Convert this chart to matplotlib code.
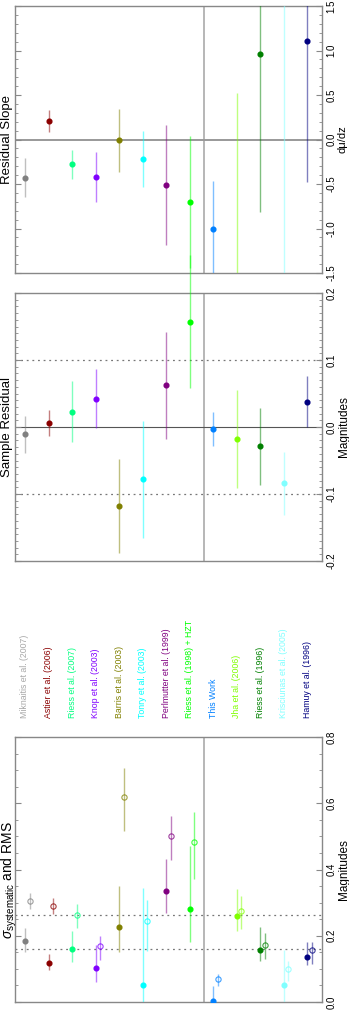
import matplotlib
matplotlib.use('Agg')
import matplotlib.pyplot as plt
import matplotlib.colors as mcolors
import matplotlib.transforms as mtransforms
from matplotlib.ticker import MultipleLocator, FormatStrFormatter

plt.rcParams['font.family'] = ['Liberation Sans', 'DejaVu Sans']
plt.rcParams['axes.unicode_minus'] = False
plt.rcParams['mathtext.fontset'] = 'custom'
plt.rcParams['mathtext.rm'] = 'Liberation Sans'
plt.rcParams['mathtext.it'] = 'Liberation Sans:italic'

# samples, in plotting order
names = ['Miknaitis et al. (2007)', 'Astier et al. (2006)', 'Riess et al. (2007)',
         'Knop et al. (2003)', 'Barris et al. (2003)', 'Tonry et al. (2003)',
         'Perlmutter et al. (1999)', 'Riess et al. (1998) + HZT', 'This Work',
         'Jha et al. (2006)', 'Riess et al. (1996)', 'Krisciunas et al. (2005)',
         'Hamuy et al. (1996)']
colors = ['#808080', '#8b0000', '#00ff80', '#8000ff', '#808000', '#00ffff',
          '#800080', '#00ff00', '#0080ff', '#80ff00', '#008000', '#80ffff', '#000080']
label_colors = ['#a8a8a8', '#8b0000', '#00ff80', '#8000ff', '#808000', '#00ffff',
                '#800080', '#00ff00', '#0080ff', '#80ff00', '#008000', '#80ffff', '#000080']

# residual slope (dmu/dz)
slope = [-0.43, 0.21, -0.28, -0.42, -0.01, -0.22, -0.51, -0.70, -1.01, -1.75, 0.96, -1.8, 1.11]
slope_err = [0.22, 0.125, 0.165, 0.285, 0.35, 0.31, 0.67, 0.74, 0.54, 2.27, 1.77, 3.5, 1.59]

# sample residual (mag)
resid = [-0.011, 0.006, 0.023, 0.042, -0.118, -0.078, 0.062, 0.157, -0.003, -0.018, -0.029, -0.084, 0.038]
resid_err = [0.028, 0.02, 0.045, 0.044, 0.07, 0.087, 0.08, 0.099, 0.025, 0.073, 0.057, 0.047, 0.038]

# sigma systematic (filled) and RMS (open)
sys_val = [0.185, 0.117, 0.161, 0.102, 0.226, 0.050, 0.335, 0.280, 0.004, 0.260, 0.158, 0.050, 0.137]
sys_lo = [0.033, 0.020, 0.039, 0.042, 0.076, 0.050, 0.067, 0.100, 0.004, 0.045, 0.034, 0.050, 0.025]
sys_hi = [0.038, 0.027, 0.054, 0.070, 0.124, 0.293, 0.096, 0.191, 0.045, 0.081, 0.069, 0.107, 0.043]
rms_val = [0.305, 0.290, 0.263, 0.169, 0.618, 0.245, 0.502, 0.484, 0.069, 0.274, 0.173, 0.099, 0.156]
rms_lo = [0.025, 0.025, 0.039, 0.042, 0.103, 0.090, 0.072, 0.113, 0.020, 0.054, 0.042, 0.035, 0.041]
rms_hi = [0.023, 0.023, 0.033, 0.031, 0.089, 0.063, 0.061, 0.091, 0.015, 0.046, 0.035, 0.025, 0.024]

sys_lines = [0.16, 0.262]
resid_lines = [-0.1, 0.1]

W, H = 349, 1010
fig = plt.figure(figsize=(W / 100, H / 100), dpi=100)


def px_axes(top, bottom, left=15, right=322):
    return fig.add_axes([left / W, 1 - bottom / H, (right - left) / W, (bottom - top) / H])


ax1 = px_axes(6, 273)
ax2 = px_axes(293, 561)
ax3 = px_axes(737, 1002)

xpos = list(range(len(names)))
split = 7.61
frame = '#888888'


def style(ax, lo, hi, major, minor, fmt):
    ax.set_xlim(-0.425, 12.63)
    ax.set_ylim(lo, hi)
    ax.set_xticks([])
    ax.yaxis.set_major_locator(MultipleLocator(major))
    ax.yaxis.set_minor_locator(MultipleLocator(minor))
    ax.yaxis.set_major_formatter(FormatStrFormatter(fmt))
    ax.tick_params(axis='y', which='both', direction='in', left=True, right=True,
                   labelleft=False, labelright=True, color=frame, labelsize=7, pad=3)
    ax.tick_params(axis='y', which='major', length=4, width=0.8)
    ax.tick_params(axis='y', which='minor', length=2.5, width=0.6)
    for t in ax.get_yticklabels():
        t.set_rotation(90)
        t.set_va('center')
    for s in ax.spines.values():
        s.set_color(frame)
        s.set_linewidth(1.0)
    ax.yaxis.set_label_position('right')
    ax.axvline(split, color='#aaaaaa', lw=1.2, zorder=1)


def ecol(c, a=0.5):
    return mcolors.to_rgba(c, a)


# top: residual slope
style(ax1, -1.5, 1.5, 0.5, 0.1, '%.1f')
ax1.axhline(0, color='#999999', lw=1.4, zorder=1)
for i in xpos:
    ax1.errorbar(xpos[i], slope[i], yerr=slope_err[i], fmt='o', color=colors[i],
                 ecolor=ecol(colors[i]), elinewidth=1, ms=3.4, capsize=0, zorder=3)
ax1.set_ylabel('d\u03bc/dz', fontsize=8, labelpad=1)

# middle: sample residual
style(ax2, -0.2, 0.2, 0.1, 0.01, '%.1f')
ax2.axhline(0, color='#555555', lw=0.8, zorder=1)
for v in resid_lines:
    ax2.axhline(v, color='#777777', lw=0.9, ls=(0, (1.5, 3)), zorder=1)
for i in xpos:
    eb = ax2.errorbar(xpos[i], resid[i], yerr=resid_err[i], fmt='o', color=colors[i],
                      ecolor=ecol(colors[i]), elinewidth=1, ms=3.4, capsize=0, zorder=3)
    for art in eb.lines[2]:
        art.set_clip_on(False)
ax2.set_ylabel('Magnitudes', fontsize=8.5, labelpad=1)

# bottom: sigma systematic and RMS
style(ax3, 0.0, 0.8, 0.2, 0.05, '%.1f')
for v in sys_lines:
    ax3.axhline(v, color='#777777', lw=0.9, ls=(0, (1.5, 3)), zorder=1)
for i in xpos:
    ax3.errorbar(xpos[i], sys_val[i], yerr=[[sys_lo[i]], [sys_hi[i]]], fmt='o',
                 color=colors[i], ecolor=ecol(colors[i]), elinewidth=1, ms=3.4,
                 capsize=0, zorder=3)
    ax3.errorbar(xpos[i] + 0.2, rms_val[i], yerr=[[rms_lo[i]], [rms_hi[i]]], fmt='o',
                 mfc='none', mec=ecol(colors[i], 0.75), mew=0.8, ms=3.8,
                 ecolor=ecol(colors[i]), elinewidth=1, capsize=0, zorder=3)
ax3.set_ylabel('Magnitudes', fontsize=8.5, labelpad=1)

# sample names between middle and bottom panels
trans = mtransforms.blended_transform_factory(ax3.transData, fig.transFigure)
for i in xpos:
    fig.text(xpos[i], 1 - 718 / H, names[i], transform=trans, rotation=90,
             ha='center', va='bottom', fontsize=6.3, color=label_colors[i])

# panel titles
fig.text(7 / W, 1 - 140 / H, 'Residual Slope', rotation=90, ha='center', va='center', fontsize=9.5)
fig.text(7 / W, 1 - 427 / H, 'Sample Residual', rotation=90, ha='center', va='center', fontsize=9.5)
fig.text(9 / W, 1 - 880 / H, r'$\sigma_{\mathrm{systematic}}$ and RMS', rotation=90,
         ha='center', va='center', fontsize=10)

fig.savefig('out.png', dpi=100)
